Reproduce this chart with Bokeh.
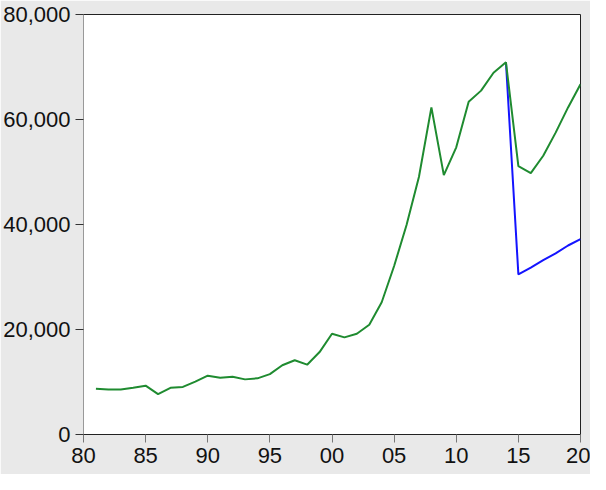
from bokeh.plotting import figure
from bokeh.models import FixedTicker, Range1d
from bokeh.embed import file_html
from bokeh.resources import INLINE

years = list(range(1981, 2021))
green_values = [8700, 8550, 8550, 8900, 9300, 7700, 8900, 9060, 10060, 11200,
                10800, 11000, 10500, 10700, 11500, 13200, 14150, 13300, 15700, 19200,
                18500, 19200, 20900, 25200, 32100, 39900, 49100, 62300, 49400, 54700,
                63400, 65500, 68900, 70900, 51100, 49800, 53100, 57500, 62300, 66700]
blue_years = list(range(2014, 2021))
blue_values = [70900, 30500, 31800, 33200, 34500, 36000, 37200]

x_ticks = [1980, 1985, 1990, 1995, 2000, 2005, 2010, 2015, 2020]
x_labels = ["80", "85", "90", "95", "00", "05", "10", "15", "20"]
y_ticks = [0, 20000, 40000, 60000, 80000]
y_labels = ["0", "20,000", "40,000", "60,000", "80,000"]

FONT = "Liberation Sans"

p = figure(width=590, height=474, output_backend="svg", toolbar_location=None,
           x_range=Range1d(1980, 2020), y_range=Range1d(0, 80000),
           min_border_left=75, min_border_right=10, min_border_top=14, min_border_bottom=40)
p.background_fill_color = "white"
p.border_fill_color = "#e9e9e9"
p.outline_line_color = "#222222"
p.outline_line_width = 1
p.grid.visible = False

p.line(blue_years, blue_values, line_color="#1414ff", line_width=2)
p.line(years, green_values, line_color="#1f8b30", line_width=2)

p.xaxis.ticker = FixedTicker(ticks=x_ticks)
p.xaxis.major_label_overrides = dict(zip(x_ticks, x_labels))
p.yaxis.ticker = FixedTicker(ticks=y_ticks)
p.yaxis.major_label_overrides = dict(zip(y_ticks, y_labels))

for ax in (p.xaxis, p.yaxis):
    ax.minor_tick_line_color = None
    ax.major_tick_in = 0
    ax.major_tick_out = 8
    ax.major_label_text_font = FONT
    ax.major_label_text_font_size = "22px"
    ax.major_label_text_color = "#111111"
    ax.major_label_standoff = 5

p.xaxis.axis_line_color = "#222222"
p.xaxis.major_tick_line_color = "#777777"
p.yaxis.axis_line_color = "#999999"
p.yaxis.major_tick_line_color = "#333333"

with open("out.html", "w") as f:
    f.write(file_html(p, INLINE))
